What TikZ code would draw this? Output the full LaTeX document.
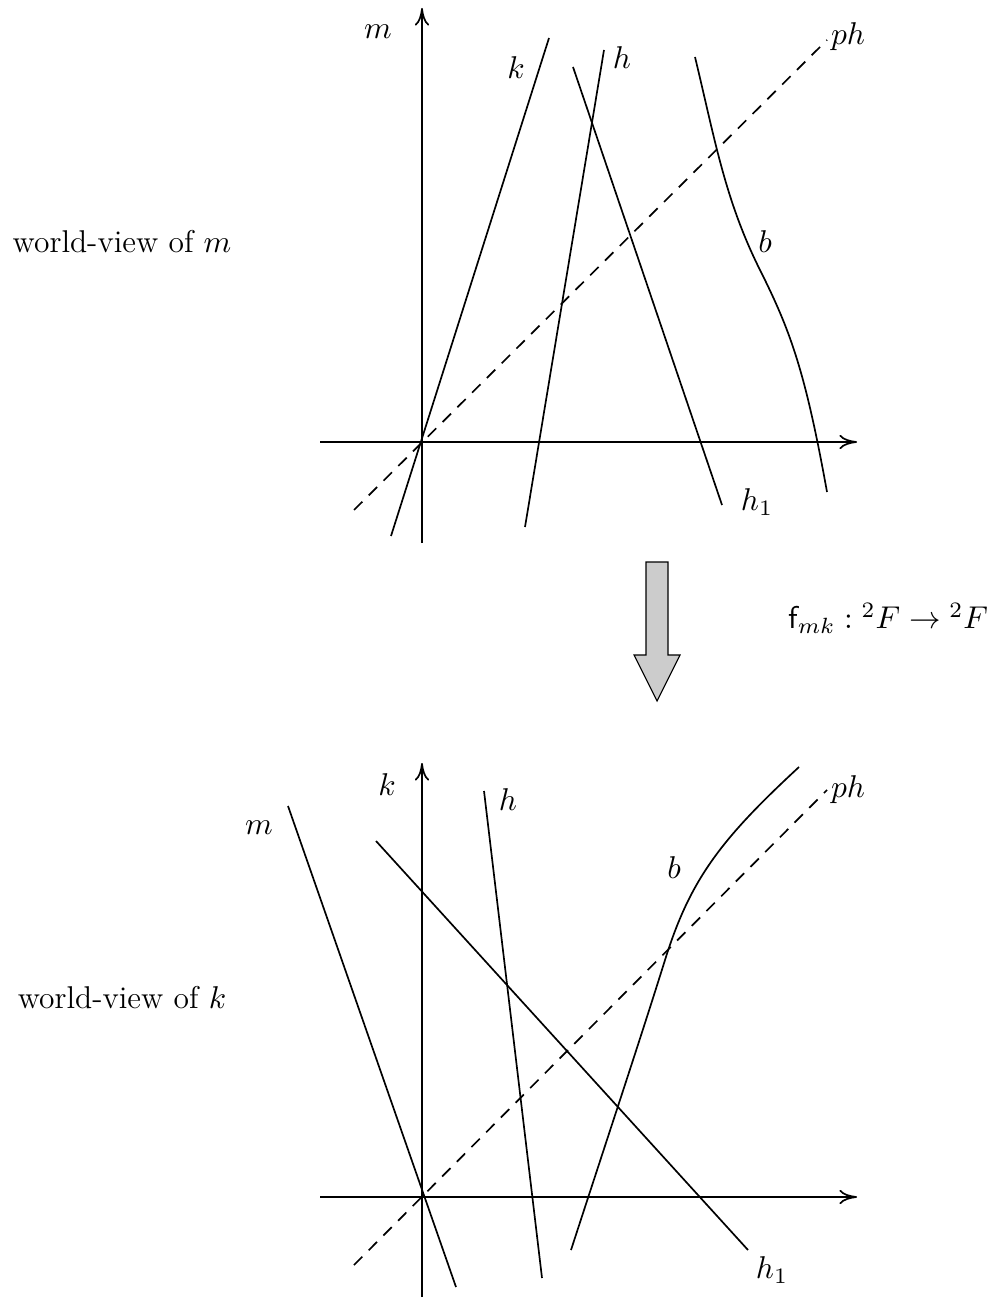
\documentclass[tikz,border=0pt]{standalone}
\usepackage{fix-cm}
\usepackage{amsmath,amssymb}
\usetikzlibrary{arrows.meta,positioning,calc}
\tikzset{axis/.style={line width=.6pt,-{To[length=2.2mm,width=1.8mm]}},wl/.style={line width=.6pt},photon/.style={line width=.6pt,dash pattern=on 4.2pt off 3.2pt},lbl/.style={inner sep=1pt},bigarrow/.style={draw,line width=.4pt,fill=black!20}}

\begin{document}
\begin{tikzpicture}[x=.0125cm,y=-.0125cm,font=\fontsize{11.2}{13.4}\selectfont]
\useasboundingbox (0,0) rectangle (997,1298);
% world-view of m
\coordinate (o1) at (422,442);
\draw[axis] (422,543) -- (422,8);
\draw[axis] (320,442) -- (857,442);
\foreach \n/\x/\y/\m/\X/\Y in {k/391/536/ke/549/38,h/525/527/he/604/50,ha/573/67/hae/722/505}{\coordinate (\n) at (\x,\y);\coordinate (\m) at (\X,\Y);\draw[wl] (\n) -- (\m);}
\coordinate (b) at (695,57);\coordinate (be) at (827,492);
\draw[wl] (b) .. controls (715,140) and (725,200) .. (760,270) .. controls (790,330) and (805,370) .. (be);
\coordinate (p1) at (354,510);\coordinate (p1e) at (827,40);
\draw[photon] (p1) -- (p1e);
\node[lbl] (m1) at (378,32) {$m$};
\node[lbl] (k1) at (516,68) {$k$};
\node[lbl] (h1) at (622,58) {$h$};
\node[lbl] (ha1) at (757,502) {$h_1$};
\node[lbl] (b1) at (765,242) {$b$};
\node[lbl] (ph1) at (848,37) {$ph$};
\node (wv1) at (122,242) {world-view of $m$};
% the map
\draw[bigarrow] (646,562) -- (668,562) -- (668,655) -- (680,655) -- (657,701) -- (634,655) -- (646,655) -- cycle;
\node (map) at (888,618) {$\mathsf{f}_{mk}:{}^2F\rightarrow{}^2F$};
% world-view of k
\coordinate (o2) at (422,1197);
\draw[axis] (422,1297) -- (422,763);
\draw[axis] (320,1197) -- (857,1197);
\foreach \n/\x/\y/\m/\X/\Y in {mm/288/806/mme/456/1287,kk/376/841/kke/748/1250,hh/484/791/hhe/542/1278}{\coordinate (\n) at (\x,\y);\coordinate (\m) at (\X,\Y);\draw[wl] (\n) -- (\m);}
\coordinate (bb) at (571,1250);\coordinate (bbe) at (799,767);
\draw[wl] (bb) .. controls (610,1130) and (640,1040) .. (665,960) .. controls (690,880) and (720,840) .. (bbe);
\coordinate (p2) at (354,1265);\coordinate (p2e) at (827,790);
\draw[photon] (p2) -- (p2e);
\node[lbl] (m2) at (259,828) {$m$};
\node[lbl] (k2) at (387,785) {$k$};
\node[lbl] (h2) at (508,800) {$h$};
\node[lbl] (ha2) at (772,1270) {$h_1$};
\node[lbl] (b2) at (674,868) {$b$};
\node[lbl] (ph2) at (848,790) {$ph$};
\node (wv2) at (122,998) {world-view of $k$};
\end{tikzpicture}
\end{document}
